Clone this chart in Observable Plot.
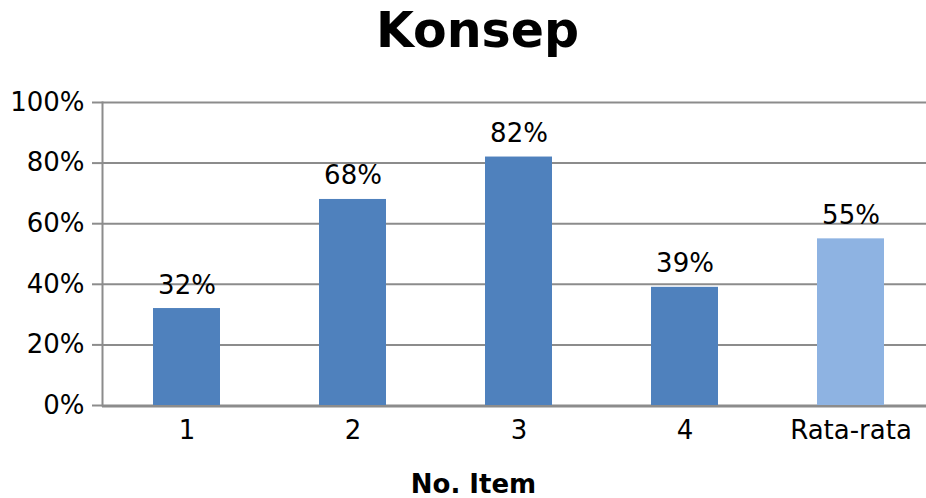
<!DOCTYPE html>
<html>
<head>
<meta charset="utf-8">
<script src="https://cdn.jsdelivr.net/npm/d3@7"></script>
<script src="https://cdn.jsdelivr.net/npm/@observablehq/plot@0.6"></script>
<style>
  html, body { margin: 0; padding: 0; background: #fff; }
  #chart svg { display: block; }
</style>
</head>
<body>
<div id="chart"></div>
<script>
// Percentage of correct answers on the "Konsep" items, plus the average
const items = ["1", "2", "3", "4", "Rata-rata"];
const scores = [32, 68, 82, 39, 55];
const yTicks = [0, 20, 40, 60, 80, 100];
const titleText = "Konsep";
const xLabel = "No. Item";

const data = items.map((item, i) => ({item, score: scores[i], average: item === "Rata-rata"}));

const font = "DejaVu Sans";
const grid = "#8c8c8c";

const chart = Plot.plot({
  width: 926,
  height: 498,
  marginTop: 102,
  marginBottom: 93,
  marginLeft: 102,
  marginRight: 0,
  style: {fontFamily: font, fontSize: "26px", color: "#000", background: "#fff"},
  x: {domain: items, range: [103.5, 933.5], paddingInner: 0.595, paddingOuter: 0.2975},
  y: {domain: [0, 100], ticks: yTicks},
  marks: [
    Plot.ruleY(yTicks, {stroke: grid, strokeWidth: 2}),
    Plot.barY(data, {
      x: "item",
      y: "score",
      fill: d => d.average ? "#8EB3E2" : "#4F81BD"
    }),
    Plot.ruleY([0], {stroke: grid, strokeWidth: 2, dy: 1}),
    Plot.frame({anchor: "left", stroke: grid, strokeWidth: 2}),
    Plot.axisY({
      ticks: yTicks,
      tickSize: 10,
      tickPadding: 8,
      tickFormat: d => `${d}%`,
      stroke: grid,
      strokeWidth: 2,
      strokeOpacity: 1,
      fontSize: 26,
      label: null
    }),
    Plot.axisX({
      tickSize: 0,
      tickPadding: 15,
      fontSize: 26,
      label: null
    }),
    Plot.text(data, {
      x: "item",
      y: "score",
      text: d => `${d.score}%`,
      lineAnchor: "bottom",
      dy: -15,
      fontSize: 26,
      fill: "#000"
    }),
    Plot.text([titleText], {
      frameAnchor: "top",
      lineAnchor: "top",
      dx: -37,
      dy: -90,
      fontSize: 49,
      fontWeight: "bold",
      fill: "#000"
    }),
    Plot.text([xLabel], {
      frameAnchor: "bottom",
      lineAnchor: "top",
      dx: -41,
      dy: 69,
      fontSize: 26,
      fontWeight: "bold",
      fill: "#000"
    })
  ]
});

document.getElementById("chart").appendChild(chart);
</script>
</body>
</html>
